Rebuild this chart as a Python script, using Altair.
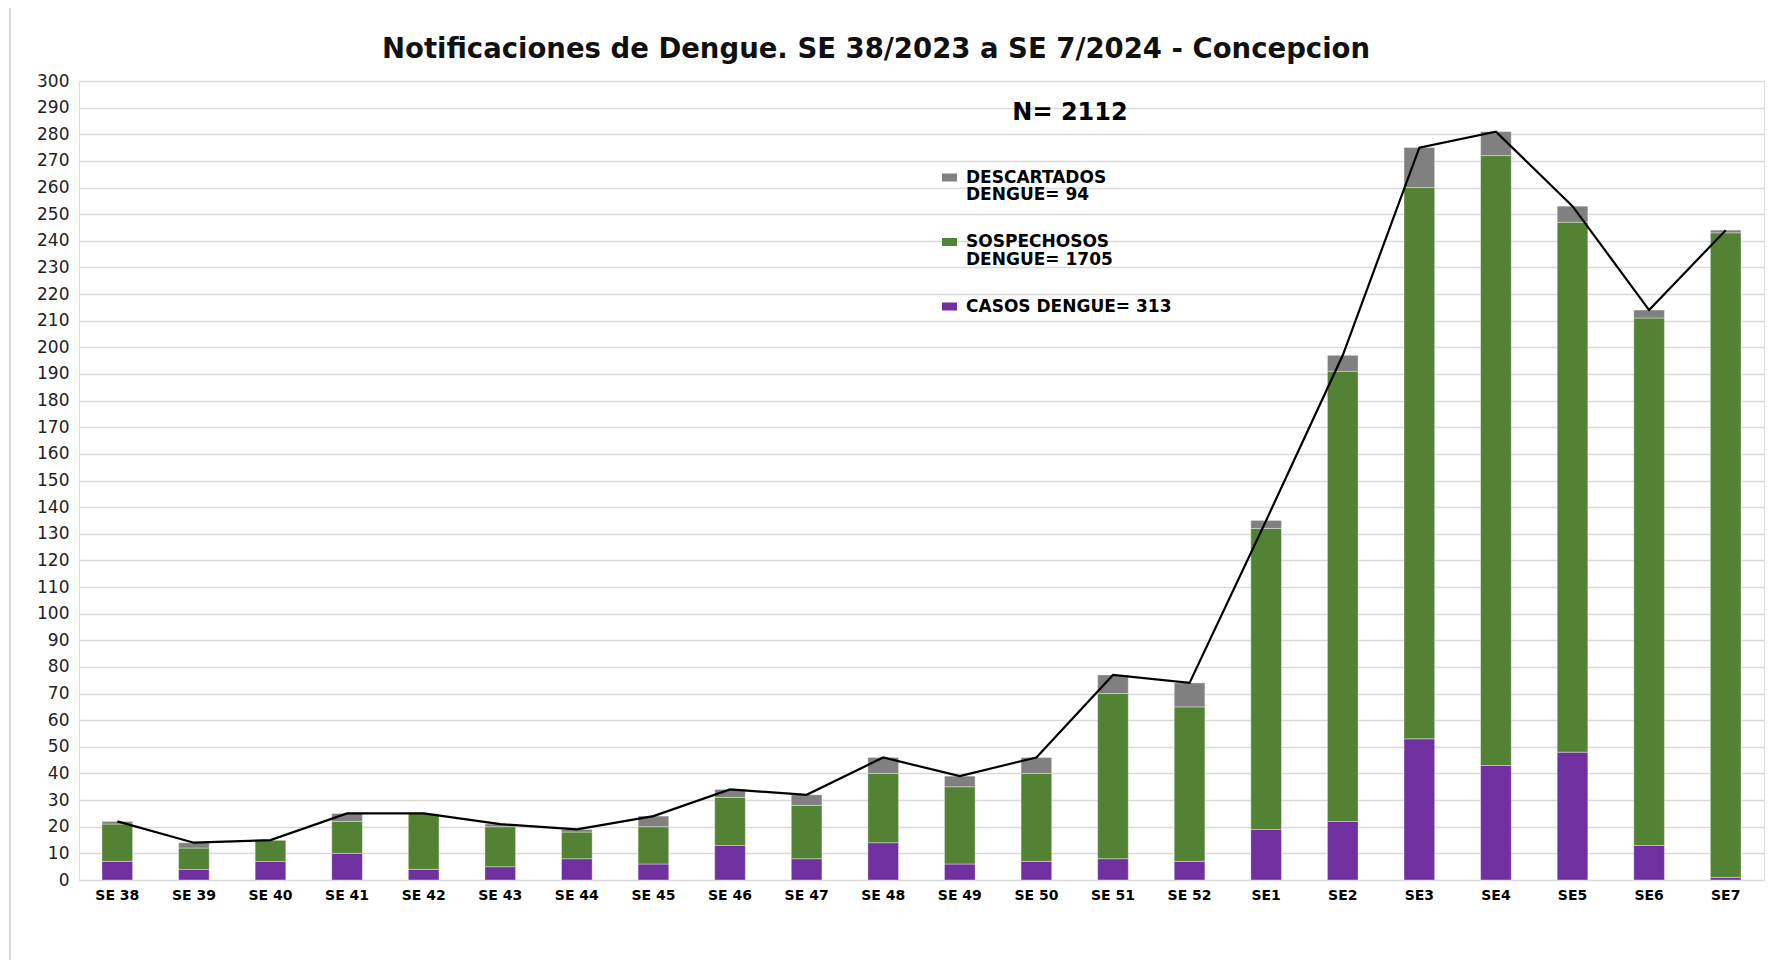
import altair as alt
import pandas as pd

semanas = ["SE 38", "SE 39", "SE 40", "SE 41", "SE 42", "SE 43", "SE 44", "SE 45",
           "SE 46", "SE 47", "SE 48", "SE 49", "SE 50", "SE 51", "SE 52",
           "SE1", "SE2", "SE3", "SE4", "SE5", "SE6", "SE7"]
casos = [7, 4, 7, 10, 4, 5, 8, 6, 13, 8, 14, 6, 7, 8, 7, 19, 22, 53, 43, 48, 13, 1]
sospechosos = [14, 8, 8, 12, 21, 15, 10, 14, 18, 20, 26, 29, 33, 62, 58, 113, 169, 207, 229, 199, 198, 242]
descartados = [1, 2, 0, 3, 0, 1, 1, 4, 3, 4, 6, 4, 6, 7, 9, 3, 6, 15, 9, 6, 3, 1]
y_ticks = list(range(0, 301, 10))

estados = ["CASOS", "SOSPECHOSOS", "DESCARTADOS"]
colores = ["#7030A0", "#548235", "#808080"]

rows = []
for i, s in enumerate(semanas):
    for k, (est, vals) in enumerate(zip(estados, [casos, sospechosos, descartados])):
        rows.append({"semana": s, "estado": est, "valor": vals[i], "orden": k})
df = pd.DataFrame(rows)
totales = [c + s + d for c, s, d in zip(casos, sospechosos, descartados)]
df_tot = pd.DataFrame({"semana": semanas, "total": totales})

FONT = "DejaVu Sans"

x_axis = alt.Axis(labelAngle=0, ticks=False, domain=False, labelFont=FONT,
                  labelFontWeight="bold", labelFontSize=14, labelColor="#000000",
                  labelPadding=8, grid=False, labelOverlap=False)
y_axis = alt.Axis(values=y_ticks, ticks=False, domain=False,
                  grid=True, gridColor="#d9d9d9", gridWidth=1.5,
                  labelFont=FONT, labelFontSize=17, labelColor="#222222",
                  labelPadding=10, labelOverlap=False)
x_scale = alt.Scale(paddingInner=0.6, paddingOuter=0.3)
y_scale = alt.Scale(domain=[0, 300], nice=False)

bars = alt.Chart(df).mark_bar(stroke="#ffffff", strokeWidth=0.6, strokeOpacity=0.6).encode(
    x=alt.X("semana:N", sort=semanas, title=None, scale=x_scale, axis=x_axis),
    y=alt.Y("valor:Q", stack="zero", scale=y_scale, title=None, axis=y_axis),
    color=alt.Color("estado:N", scale=alt.Scale(domain=estados, range=colores), legend=None),
    order=alt.Order("orden:Q"),
)

line = alt.Chart(df_tot).mark_line(color="#000000", strokeWidth=2.2).encode(
    x=alt.X("semana:N", sort=semanas, title=None, scale=x_scale, axis=x_axis),
    y=alt.Y("total:Q", scale=y_scale, title=None, axis=y_axis),
)

titulo = alt.Chart(pd.DataFrame({"t": ["Notificaciones de Dengue. SE 38/2023 a SE 7/2024 - Concepcion"]})).mark_text(
    font=FONT, fontWeight="bold", fontSize=27.5, color="#111111", align="center", baseline="middle"
).encode(text="t:N", x=alt.value(797), y=alt.value(-31))

n_total = sum(casos) + sum(sospechosos) + sum(descartados)
ntext = alt.Chart(pd.DataFrame({"t": [f"N= {n_total}"]})).mark_text(
    font=FONT, fontWeight="bold", fontSize=24, color="#000000", align="center", baseline="middle"
).encode(text="t:N", x=alt.value(991), y=alt.value(32))

leg_rows = pd.DataFrame({
    "estado": ["DESCARTADOS", "SOSPECHOSOS", "CASOS"],
    "l1": ["DESCARTADOS", "SOSPECHOSOS", f"CASOS DENGUE= {sum(casos)}"],
    "l2": [f"DENGUE= {sum(descartados)}", f"DENGUE= {sum(sospechosos)}", ""],
})
leg_y = [96.5, 161, 225.5]
leg_layers = []
for i, r in leg_rows.iterrows():
    d = pd.DataFrame([r])
    yy = leg_y[i]
    sq = alt.Chart(d).mark_rect().encode(
        x=alt.value(863), x2=alt.value(878), y=alt.value(yy - 4), y2=alt.value(yy + 4),
        color=alt.Color("estado:N", scale=alt.Scale(domain=estados, range=colores), legend=None))
    t1 = alt.Chart(d).mark_text(font=FONT, fontWeight="bold", fontSize=17, color="#000000",
                                align="left", baseline="middle").encode(
        text="l1:N", x=alt.value(887), y=alt.value(yy))
    t2 = alt.Chart(d).mark_text(font=FONT, fontWeight="bold", fontSize=17, color="#000000",
                                align="left", baseline="middle").encode(
        text="l2:N", x=alt.value(887), y=alt.value(yy + 17.5))
    leg_layers += [sq, t1, t2]

borde = alt.Chart(pd.DataFrame({"a": [0]})).mark_rule(color="#d9d9d9", strokeWidth=2).encode(
    x=alt.value(-69), y=alt.value(-73), y2=alt.value(890))

chart = alt.layer(borde, bars, line, titulo, ntext, *leg_layers).properties(
    width=1685, height=799,
    autosize=alt.AutoSizeParams(type="none"),
    padding={"left": 71, "top": 73, "right": 1, "bottom": 80},
).configure_view(stroke=None).configure(background="#ffffff")

chart.save("out.html", embed_options={"renderer": "svg", "actions": False})
